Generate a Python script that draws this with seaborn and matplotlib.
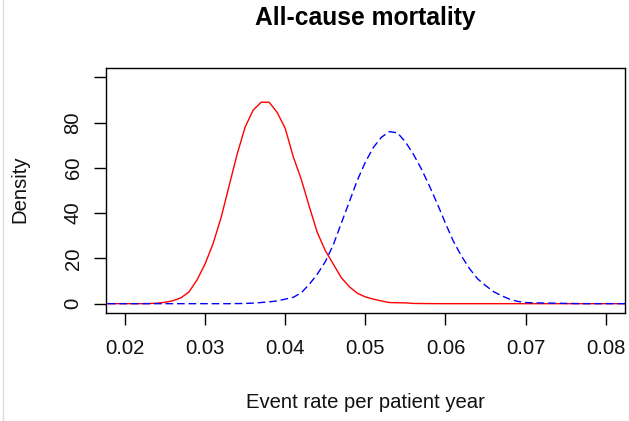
import matplotlib
matplotlib.use("Agg")
import matplotlib.pyplot as plt
from matplotlib.lines import Line2D
import numpy as np
import pandas as pd
import seaborn as sns

# Event rate grid (per patient year); the outer points run past the axis limits
event_rate = [
    0.015,
    0.020, 0.021, 0.022, 0.023, 0.024, 0.025, 0.026, 0.027, 0.028, 0.029,
    0.030, 0.031, 0.032, 0.033, 0.034, 0.035, 0.036, 0.037, 0.038, 0.039,
    0.040, 0.041, 0.042, 0.043, 0.044, 0.045, 0.046, 0.047, 0.048, 0.049,
    0.050, 0.051, 0.052, 0.053, 0.054, 0.055, 0.056, 0.057, 0.058, 0.059,
    0.060, 0.061, 0.062, 0.063, 0.064, 0.065, 0.066, 0.067, 0.068, 0.069,
    0.070, 0.071, 0.072, 0.073, 0.074, 0.075, 0.076, 0.077, 0.078, 0.079,
    0.080,
    0.085,
]

# Density of the first arm (solid red)
density_red = [
    0,
    0, 0, 0, 0.05, 0.2, 0.6, 1.3, 2.6, 5.2, 10.5,
    17.5, 26.5, 38, 52, 66, 78, 85.5, 89, 89, 84.5,
    77.5, 65, 55, 43, 31.5, 23.5, 17.5, 11.5, 7.5, 4.6,
    3.0, 2.0, 1.2, 0.5, 0.4, 0.35, 0.1, 0.06, 0.03, 0,
    0, 0, 0, 0, 0, 0, 0, 0, 0, 0,
    0, 0, 0, 0, 0, 0, 0, 0, 0, 0,
    0,
    0,
]

# Density of the second arm (dashed blue)
density_blue = [
    0,
    0, 0, 0, 0, 0, 0, 0, 0, 0, 0,
    0, 0, 0, 0, 0.05, 0.1, 0.25, 0.5, 0.8, 1.2,
    2.0, 2.8, 4.8, 8.5, 13, 18.5, 26, 35.5, 45, 54.5,
    62.5, 69, 73.5, 76, 75.5, 71.5, 66, 59.5, 52, 44,
    35.5, 27.5, 21, 15.5, 11, 8, 5.3, 3.5, 2.0, 1.0,
    0.5, 0.35, 0.3, 0.25, 0.2, 0.1, 0.05, 0, 0, 0,
    0,
    0,
]

x_ticks = [0.02, 0.03, 0.04, 0.05, 0.06, 0.07, 0.08]
x_tick_labels = ["0.02", "0.03", "0.04", "0.05", "0.06", "0.07", "0.08"]
y_ticks = [0, 20, 40, 60, 80, 100]
y_tick_labels = ["0", "20", "40", "60", "80", ""]

df = pd.DataFrame({
    "rate": event_rate,
    "red": density_red,
    "blue": density_blue,
})

sns.set_style("ticks")
plt.rcParams["font.family"] = ["Liberation Sans", "DejaVu Sans"]

FS = 14.6

fig = plt.figure(figsize=(6.29, 4.21), dpi=100)
fig.patch.set_facecolor("white")
ax = fig.add_axes([0.168, 0.2572, 0.8256, 0.5806])

sns.lineplot(data=df, x="rate", y="red", ax=ax, color="#ff0000",
             linewidth=1.0, estimator=None, sort=False)
sns.lineplot(data=df, x="rate", y="blue", ax=ax, color="#0000ff",
             linewidth=1.0, linestyle=(0, (5.5, 2.8)), estimator=None, sort=False)

ax.set_xlim(0.0176, 0.0824)
ax.set_ylim(-4, 104)
ax.set_xticks(x_ticks)
ax.set_xticklabels(x_tick_labels)
ax.set_yticks(y_ticks)
ax.set_yticklabels(y_tick_labels, rotation=90, va="center")
ax.set_xlabel("")
ax.set_ylabel("")

for s in ax.spines.values():
    s.set_visible(True)
    s.set_color("black")
    s.set_linewidth(1.0)

ax.tick_params(axis="both", direction="out", length=8.6, width=1.0,
               color="black", labelsize=FS, labelcolor="#111111")
ax.tick_params(axis="x", pad=10.5)
ax.tick_params(axis="y", pad=8)

fig.text(365 / 629, 1 - 18 / 421, "All-cause mortality", ha="center",
         va="center", fontsize=17.7, fontweight="bold", color="black")
fig.text(365 / 629, 1 - 402 / 421, "Event rate per patient year",
         ha="center", va="center", fontsize=FS, color="#111111")
fig.text(20 / 629, 1 - 189 / 421, "Density", ha="center", va="center",
         rotation=90, fontsize=FS, color="#111111")

# thin frame line along the left edge of the canvas
fig.add_artist(Line2D([3 / 629, 3 / 629], [0, 1], transform=fig.transFigure,
                      color="#dcdcdc", linewidth=1.0))

fig.savefig("out.png", dpi=100, facecolor="white")
